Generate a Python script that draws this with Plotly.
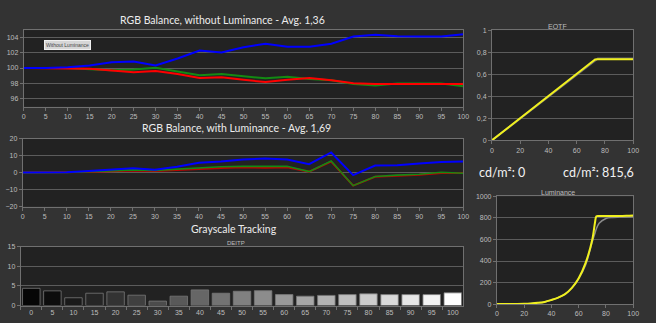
import plotly.graph_objects as go

# ---- data ----
steps = [0, 5, 10, 15, 20, 25, 30, 35, 40, 45, 50, 55, 60, 65, 70, 75, 80, 85, 90, 95, 100]

# RGB balance without luminance (%)
bal_red = [100, 100, 99.95, 99.9, 99.7, 99.45, 99.6, 99.2, 98.7, 98.8, 98.45,
           98.15, 98.45, 98.7, 98.4, 98.0, 97.9, 97.9, 97.9, 97.85, 97.9]
bal_green = [100, 100, 100, 99.85, 99.7, 99.8, 100.05, 99.55, 99.05, 99.2, 98.9,
             98.65, 98.85, 98.55, 98.4, 97.9, 97.7, 97.95, 97.95, 97.95, 97.6]
bal_blue = [100, 100, 100.1, 100.35, 100.75, 100.85, 100.35, 101.25, 102.3, 102.05, 102.75,
            103.2, 102.8, 102.8, 103.2, 104.15, 104.4, 104.2, 104.15, 104.15, 104.45]

# RGB balance with luminance (%)
lum_red = [0, 0, 0, 0.4, 0.8, 1.2, 1.0, 1.4, 2.2, 2.7, 3.1,
           2.9, 3.1, 0.6, 6.5, -7.7, -2.5, -1.9, -1.3, -0.2, -0.2]
lum_green = [0, 0, 0.1, 0.6, 1.0, 1.6, 1.3, 2.0, 2.9, 3.5, 3.7,
             3.5, 3.7, 0.6, 6.9, -7.7, -2.3, -1.5, -1.0, 0.2, -0.4]
lum_blue = [0, 0, 0.2, 1.0, 1.7, 2.5, 1.7, 3.5, 5.8, 6.5, 7.7,
            8.3, 7.7, 5.0, 11.9, -1.5, 4.2, 4.4, 5.4, 6.3, 6.5]

# Grayscale tracking, DEITP per step
deitp = [4.4, 3.75, 2.0, 3.15, 3.5, 2.65, 1.15, 2.4, 4.0, 3.15, 3.65,
         3.8, 2.8, 2.4, 2.6, 2.8, 3.0, 2.8, 2.8, 2.8, 3.25]

# EOTF (normalised signal out vs. stimulus %)
eotf_x = [0, 20, 40, 60, 72, 73, 75, 80, 90, 100]
eotf_meas = [0, 0.2, 0.4, 0.6, 0.72, 0.733, 0.735, 0.735, 0.735, 0.735]
eotf_target = [0, 0.2, 0.4, 0.6, 0.72, 0.73, 0.742, 0.742, 0.742, 0.742]

# Luminance (cd/m2)
lumi_x = [0, 5, 10, 15, 20, 25, 30, 35, 40, 45, 50, 55, 60, 65, 70, 72, 73, 75, 80, 85, 90, 95, 100]
lumi_meas = [0, 0.1, 0.5, 1.5, 3, 6, 11, 20, 38, 60, 92, 150, 240, 380, 600, 760, 815,
             818, 818, 818, 819, 820, 822]
lumi_ref = [0, 0.1, 0.5, 1.5, 3, 6, 11, 20, 38, 60, 92, 150, 235, 360, 580, 660, 700,
            750, 795, 805, 808, 810, 812]

black_level = "cd/m²: 0"
peak_level = "cd/m²: 815,6"

# ---- styling ----
W, H = 656, 323
BG = "#333333"
PLOT_BG = "#222222"
GRID = "#5c5c5c"
BORDER = "#707070"
TICK_FONT = dict(family="Liberation Sans", size=7, color="#bdbdbd")
TITLE_FONT = dict(family="Lato", size=10.5, color="#ececec")


def px_x(a, b):
    return [a / W, b / W]


def px_y(top, bottom):
    return [1 - bottom / H, 1 - top / H]


def axis_style(**kw):
    base = dict(showline=True, linecolor=BORDER, linewidth=1, mirror=True,
                ticks="outside", ticklen=3, tickcolor=BORDER,
                tickfont=TICK_FONT, zeroline=False, showgrid=False)
    base.update(kw)
    return base


fig = go.Figure()

# RGB balance, without luminance
for vals, col, w in [(bal_green, "#138a13", 2), (bal_red, "#ff0000", 2), (bal_blue, "#0000ff", 2)]:
    fig.add_trace(go.Scatter(x=steps, y=vals, mode="lines", line=dict(color=col, width=w),
                             xaxis="x", yaxis="y", showlegend=False))

# RGB balance, with luminance
for vals, col, w in [(lum_red, "#c00000", 2), (lum_green, "#138a13", 1.6), (lum_blue, "#0000ff", 2)]:
    fig.add_trace(go.Scatter(x=steps, y=vals, mode="lines", line=dict(color=col, width=w),
                             xaxis="x2", yaxis="y2", showlegend=False))

# Grayscale tracking bars, shaded by stimulus level
bar_colors = []
for s in steps:
    v = max(6, round(255 * s / 100))
    bar_colors.append(f"rgb({v},{v},{v})")
fig.add_trace(go.Bar(x=[str(s) for s in steps], y=deitp,
                     marker=dict(color=bar_colors, line=dict(color="rgba(120,120,120,0.8)", width=1)),
                     xaxis="x3", yaxis="y3", showlegend=False))

# EOTF
fig.add_trace(go.Scatter(x=eotf_x, y=eotf_target, mode="lines", line=dict(color="#6a6a6a", width=2),
                         xaxis="x4", yaxis="y4", showlegend=False))
fig.add_trace(go.Scatter(x=eotf_x, y=eotf_meas, mode="lines", line=dict(color="#f0f01e", width=2),
                         xaxis="x4", yaxis="y4", showlegend=False))

# Luminance
fig.add_trace(go.Scatter(x=lumi_x, y=lumi_ref, mode="lines", line=dict(color="#8a8a8a", width=1.5, shape="spline"),
                         xaxis="x5", yaxis="y5", showlegend=False))
fig.add_trace(go.Scatter(x=lumi_x, y=lumi_meas, mode="lines", line=dict(color="#f0f01e", width=2, shape="spline"),
                         xaxis="x5", yaxis="y5", showlegend=False))

grid_on = dict(showgrid=True, gridcolor=GRID, gridwidth=1)

fig.update_layout(
    width=W, height=H,
    margin=dict(l=0, r=0, t=0, b=0),
    paper_bgcolor=BG, plot_bgcolor=PLOT_BG,
    separators=",.",
    bargap=0.17,
    xaxis=axis_style(domain=px_x(22, 467), anchor="y", range=[0, 100], tickvals=steps),
    yaxis=axis_style(domain=px_y(26.7, 105), anchor="x", range=[94.9, 105],
                     tickvals=[96, 98, 100, 102, 104], **grid_on),
    xaxis2=axis_style(domain=px_x(21, 467), anchor="y2", range=[0, 100], tickvals=steps),
    yaxis2=axis_style(domain=px_y(137.7, 207), anchor="x2", range=[-20, 20],
                      tickvals=[-20, -10, 0, 10, 20], **grid_on),
    xaxis3=axis_style(domain=px_x(19, 467), anchor="y3", type="category", tickson="boundaries"),
    yaxis3=axis_style(domain=px_y(248, 308.3), anchor="x3", range=[0, 15],
                      tickvals=[0, 5, 10, 15], **grid_on),
    xaxis4=axis_style(domain=px_x(496, 639), anchor="y4", range=[0, 100],
                      tickvals=[0, 20, 40, 60, 80, 100]),
    yaxis4=axis_style(domain=px_y(26.7, 139.3), anchor="x4", range=[0, 1],
                      tickvals=[0, 0.2, 0.4, 0.6, 0.8, 1], **grid_on),
    xaxis5=axis_style(domain=px_x(501, 639), anchor="y5", range=[0, 100],
                      tickvals=[0, 20, 40, 60, 80, 100]),
    yaxis5=axis_style(domain=px_y(196.7, 306.7), anchor="x5", range=[0, 1000],
                      tickvals=[0, 200, 400, 600, 800, 1000], **grid_on),
)


def label(text, cx, cy, font, **kw):
    fig.add_annotation(text=text, x=cx / W, y=1 - cy / H, xref="paper", yref="paper",
                       showarrow=False, font=font, xanchor="center", yanchor="middle", **kw)


label("RGB Balance, without Luminance - Avg. 1,36", 223, 16, TITLE_FONT)
label("RGB Balance, with Luminance - Avg. 1,69", 237, 126.5, TITLE_FONT)
label("Grayscale Tracking", 235, 229.5, TITLE_FONT)
label("DEITP", 237, 244, dict(family="Liberation Sans", size=6, color="#bdbdbd"))
label("EOTF", 562, 23, dict(family="Liberation Sans", size=7, color="#bdbdbd"))
label("Luminance", 563, 193, dict(family="Liberation Sans", size=7, color="#bdbdbd"))
label("Without Luminance", 66.5, 41.5, dict(family="Liberation Sans", size=5, color="#444444"),
      bgcolor="#d6d6d6", bordercolor="#f0f0f0", borderwidth=1, borderpad=1)
label(black_level, 506, 172, dict(family="Lato", size=12.5, color="#f2f2f2"))
label(peak_level, 604, 172, dict(family="Lato", size=12.5, color="#f2f2f2"))

fig.write_html("out.html")
